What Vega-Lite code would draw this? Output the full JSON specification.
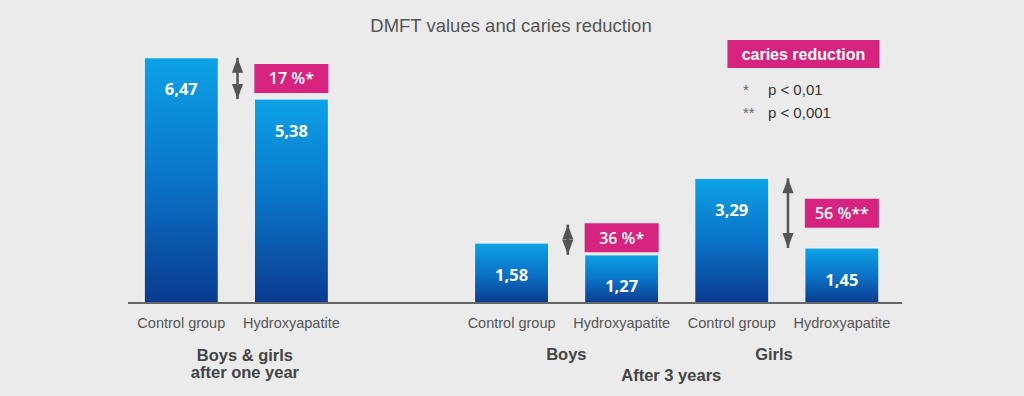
{
  "$schema": "https://vega.github.io/schema/vega-lite/v6.json",
  "width": 774,
  "height": 356,
  "autosize": {"type": "none"},
  "padding": {"left": 128, "top": 40, "right": 122, "bottom": 0},
  "background": "#ebebeb",
  "config": {
    "view": {"stroke": null},
    "locale": {"number": {"decimal": ",", "thousands": ".", "grouping": [3], "currency": ["", " €"]}}
  },
  "title": {
    "text": "DMFT values and caries reduction",
    "frame": "group",
    "anchor": "middle",
    "offset": -10,
    "dx": -4,
    "baseline": "alphabetic",
    "font": "Liberation Sans",
    "fontSize": 18.5,
    "fontWeight": "normal",
    "color": "#555555"
  },
  "datasets": {
    "bars": [
      {"key": "Boys & girls|Control group", "group": "Boys & girls", "treatment": "Control group", "dmft": 6.47},
      {"key": "Boys & girls|Hydroxyapatite", "group": "Boys & girls", "treatment": "Hydroxyapatite", "dmft": 5.38},
      {"key": "Boys|Control group", "group": "Boys", "treatment": "Control group", "dmft": 1.58},
      {"key": "Boys|Hydroxyapatite", "group": "Boys", "treatment": "Hydroxyapatite", "dmft": 1.27},
      {"key": "Girls|Control group", "group": "Girls", "treatment": "Control group", "dmft": 3.29},
      {"key": "Girls|Hydroxyapatite", "group": "Girls", "treatment": "Hydroxyapatite", "dmft": 1.45}
    ],
    "comparisons": [
      {"group": "Boys & girls", "ctrl_key": "Boys & girls|Control group", "trt_key": "Boys & girls|Hydroxyapatite", "control": 6.47, "treated": 5.38, "reduction": "17 %*"},
      {"group": "Boys", "ctrl_key": "Boys|Control group", "trt_key": "Boys|Hydroxyapatite", "control": 1.58, "treated": 1.27, "reduction": "36 %*"},
      {"group": "Girls", "ctrl_key": "Girls|Control group", "trt_key": "Girls|Hydroxyapatite", "control": 3.29, "treated": 1.45, "reduction": "56 %**"}
    ],
    "groups": [
      {"label": ["Boys & girls", "after one year"], "anchor": "Boys & girls|Control group"},
      {"label": ["Boys"], "anchor": "Boys|Control group"},
      {"label": ["Girls"], "anchor": "Girls|Control group"},
      {"label": ["After 3 years"], "anchor": "Boys|Hydroxyapatite"}
    ],
    "legend": [
      {"title": "caries reduction", "symbols": ["*", "**"], "levels": ["p < 0,01", "p < 0,001"], "anchor": "Girls|Control group"}
    ]
  },
  "layer": [
    {
      "data": {"name": "bars"},
      "mark": {
        "type": "bar",
        "stroke": "#f7f7f7",
        "strokeWidth": 1,
        "color": {
          "gradient": "linear", "x1": 0, "y1": 0, "x2": 0, "y2": 1,
          "stops": [
            {"offset": 0, "color": "#0ca2e6"},
            {"offset": 0.5, "color": "#0a74c8"},
            {"offset": 1, "color": "#0a3b8e"}
          ]
        }
      },
      "encoding": {
        "x": {
          "field": "key", "type": "nominal", "sort": null,
          "scale": {
            "domain": ["Boys & girls|Control group", "Boys & girls|Hydroxyapatite", "gap|", "Boys|Control group", "Boys|Hydroxyapatite", "Girls|Control group", "Girls|Hydroxyapatite"],
            "range": [-1.76, 768.9],
            "paddingInner": 0.328,
            "paddingOuter": 0.164
          },
          "axis": {
            "title": null,
            "labelExpr": "split(datum.value, '|')[1]",
            "ticks": false,
            "domain": false,
            "offset": -93,
            "labelPadding": 13,
            "labelAngle": 0,
            "labelOverlap": false,
            "labelBound": false,
            "labelFont": "Liberation Sans",
            "labelFontSize": 14.5,
            "labelColor": "#555555"
          }
        },
        "y": {
          "field": "dmft", "type": "quantitative",
          "scale": {"domain": [-2.454, 6.939], "nice": false, "zero": false},
          "axis": null
        },
        "y2": {"datum": 0}
      }
    },
    {
      "data": {"values": [{}]},
      "mark": {"type": "rule", "color": "#666666", "strokeWidth": 2},
      "encoding": {"y": {"datum": 0}}
    },
    {
      "data": {"name": "bars"},
      "mark": {"type": "text", "baseline": "middle", "dy": 32.5, "font": "Open Sans", "fontWeight": "bold", "fontSize": 16.5, "color": "#ffffff"},
      "encoding": {
        "x": {"field": "key", "type": "nominal"},
        "y": {"field": "dmft", "type": "quantitative"},
        "text": {"field": "dmft", "type": "quantitative", "format": ".2f"}
      }
    },
    {
      "data": {"name": "comparisons"},
      "transform": [{"calculate": "max(datum.control, datum.treated + 0.8)", "as": "arrow_top"}],
      "layer": [
        {
          "mark": {"type": "rule", "color": "#555555", "strokeWidth": 2.5},
          "encoding": {
            "x": {"field": "ctrl_key", "type": "nominal", "bandPosition": 1.26},
            "y": {"field": "arrow_top", "type": "quantitative"},
            "y2": {"field": "treated"}
          }
        },
        {
          "mark": {"type": "point", "filled": true, "opacity": 1, "color": "#555555", "size": 900, "shape": "M0,0L0.37,1L-0.37,1Z"},
          "encoding": {
            "x": {"field": "ctrl_key", "type": "nominal", "bandPosition": 1.26},
            "y": {"field": "arrow_top", "type": "quantitative"}
          }
        },
        {
          "mark": {"type": "point", "filled": true, "opacity": 1, "color": "#555555", "size": 900, "shape": "M0,0L0.37,-1L-0.37,-1Z"},
          "encoding": {
            "x": {"field": "ctrl_key", "type": "nominal", "bandPosition": 1.26},
            "y": {"field": "treated", "type": "quantitative"}
          }
        }
      ]
    },
    {
      "data": {"name": "comparisons"},
      "transform": [{"calculate": "max((datum.control + datum.treated) / 2, datum.treated + 0.45)", "as": "badge_y"}],
      "layer": [
        {
          "mark": {"type": "tick", "color": "#d6237f", "opacity": 1, "thickness": 29, "size": 74},
          "encoding": {
            "x": {"field": "trt_key", "type": "nominal"},
            "y": {"field": "badge_y", "type": "quantitative"}
          }
        },
        {
          "mark": {"type": "text", "baseline": "middle", "font": "Open Sans", "fontWeight": 600, "fontSize": 16, "color": "#ffffff", "dy": 1},
          "encoding": {
            "x": {"field": "trt_key", "type": "nominal"},
            "y": {"field": "badge_y", "type": "quantitative"},
            "text": {"field": "reduction"}
          }
        }
      ]
    },
    {
      "data": {"name": "groups"},
      "transform": [{"filter": "datum.label[0] === 'Boys & girls'"}],
      "mark": {"type": "text", "baseline": "alphabetic", "align": "center", "dy": 58, "lineHeight": 17.5, "font": "Liberation Sans", "fontWeight": "bold", "fontSize": 16.5, "color": "#444444"},
      "encoding": {
        "x": {"field": "anchor", "type": "nominal", "bandPosition": 1.36},
        "y": {"datum": 0},
        "text": {"field": "label"}
      }
    },
    {
      "data": {"name": "groups"},
      "transform": [{"filter": "datum.label[0] === 'Boys'"}],
      "mark": {"type": "text", "baseline": "alphabetic", "align": "center", "dy": 57, "font": "Liberation Sans", "fontWeight": "bold", "fontSize": 16.5, "color": "#444444"},
      "encoding": {
        "x": {"field": "anchor", "type": "nominal", "bandPosition": 1.24},
        "y": {"datum": 0},
        "text": {"field": "label"}
      }
    },
    {
      "data": {"name": "groups"},
      "transform": [{"filter": "datum.label[0] === 'Girls'"}],
      "mark": {"type": "text", "baseline": "alphabetic", "align": "center", "dy": 57, "font": "Liberation Sans", "fontWeight": "bold", "fontSize": 16.5, "color": "#444444"},
      "encoding": {
        "x": {"field": "anchor", "type": "nominal", "bandPosition": 1.07},
        "y": {"datum": 0},
        "text": {"field": "label"}
      }
    },
    {
      "data": {"name": "groups"},
      "transform": [{"filter": "datum.label[0] === 'After 3 years'"}],
      "mark": {"type": "text", "baseline": "alphabetic", "align": "center", "dy": 78, "font": "Liberation Sans", "fontWeight": "bold", "fontSize": 16.5, "color": "#444444"},
      "encoding": {
        "x": {"field": "anchor", "type": "nominal", "bandPosition": 1.17},
        "y": {"datum": 0},
        "text": {"field": "label"}
      }
    },
    {
      "data": {"name": "legend"},
      "layer": [
        {
          "mark": {"type": "point", "filled": true, "opacity": 1, "color": "#d6237f", "size": 23104, "shape": "M-1,-0.184L1,-0.184L1,0.184L-1,0.184Z"},
          "encoding": {
            "x": {"field": "anchor", "type": "nominal", "bandPosition": 1.469},
            "y": {"datum": 6.57}
          }
        },
        {
          "mark": {"type": "text", "baseline": "middle", "align": "center", "font": "Liberation Sans", "fontWeight": "bold", "fontSize": 16, "color": "#ffffff", "dy": 1},
          "encoding": {
            "x": {"field": "anchor", "type": "nominal", "bandPosition": 1.469},
            "y": {"datum": 6.57},
            "text": {"field": "title"}
          }
        },
        {
          "mark": {"type": "text", "baseline": "alphabetic", "align": "left", "lineHeight": 23, "font": "Liberation Sans", "fontSize": 15, "color": "#666666"},
          "encoding": {
            "x": {"field": "anchor", "type": "nominal", "bandPosition": 0.651},
            "y": {"datum": 5.49},
            "text": {"field": "symbols"}
          }
        },
        {
          "mark": {"type": "text", "baseline": "alphabetic", "align": "left", "lineHeight": 23, "font": "Liberation Sans", "fontSize": 15, "color": "#333333"},
          "encoding": {
            "x": {"field": "anchor", "type": "nominal", "bandPosition": 0.989},
            "y": {"datum": 5.49},
            "text": {"field": "levels"}
          }
        }
      ]
    }
  ]
}
